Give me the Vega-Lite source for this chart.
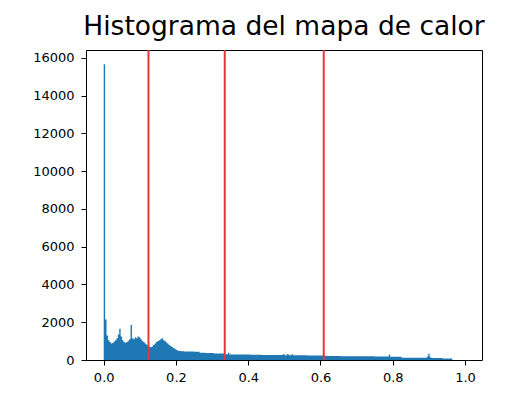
{
  "$schema": "https://vega.github.io/schema/vega-lite/v6.json",
  "width": 396,
  "height": 310,
  "autosize": {"type": "none"},
  "padding": {"left": 86, "top": 50, "right": 28, "bottom": 36},
  "background": "white",
  "title": {
    "text": "Histograma del mapa de calor",
    "font": "DejaVu Sans",
    "fontSize": 26.5,
    "fontWeight": "normal",
    "color": "#000000",
    "anchor": "middle",
    "baseline": "alphabetic",
    "offset": -12
  },
  "config": {
    "view": {"stroke": "#000000", "strokeWidth": 1},
    "axis": {
      "domain": false,
      "grid": false,
      "labelFont": "DejaVu Sans",
      "labelFontSize": 13,
      "labelColor": "#000000",
      "tickColor": "#000000",
      "tickSize": 5,
      "tickWidth": 1,
      "title": null
    }
  },
  "datasets": {
    "hist": [
      {"lo": 0, "n": 15650},
      {"lo": 0.00390625, "n": 2150},
      {"lo": 0.0078125, "n": 1300},
      {"lo": 0.01171875, "n": 1050},
      {"lo": 0.015625, "n": 950},
      {"lo": 0.01953125, "n": 880},
      {"lo": 0.0234375, "n": 900},
      {"lo": 0.02734375, "n": 980},
      {"lo": 0.03125, "n": 1050},
      {"lo": 0.03515625, "n": 1150},
      {"lo": 0.0390625, "n": 1350},
      {"lo": 0.04296875, "n": 1650},
      {"lo": 0.046875, "n": 1250},
      {"lo": 0.05078125, "n": 1050},
      {"lo": 0.0546875, "n": 950},
      {"lo": 0.05859375, "n": 900},
      {"lo": 0.0625, "n": 950},
      {"lo": 0.06640625, "n": 1000},
      {"lo": 0.0703125, "n": 1100},
      {"lo": 0.07421875, "n": 1850},
      {"lo": 0.078125, "n": 1150},
      {"lo": 0.08203125, "n": 1100},
      {"lo": 0.0859375, "n": 1200},
      {"lo": 0.08984375, "n": 1150},
      {"lo": 0.09375, "n": 1250},
      {"lo": 0.09765625, "n": 1200},
      {"lo": 0.1015625, "n": 1100},
      {"lo": 0.10546875, "n": 1000},
      {"lo": 0.109375, "n": 950},
      {"lo": 0.11328125, "n": 880},
      {"lo": 0.1171875, "n": 820},
      {"lo": 0.12109375, "n": 760},
      {"lo": 0.125, "n": 700},
      {"lo": 0.12890625, "n": 680},
      {"lo": 0.1328125, "n": 720},
      {"lo": 0.13671875, "n": 800},
      {"lo": 0.140625, "n": 880},
      {"lo": 0.14453125, "n": 950},
      {"lo": 0.1484375, "n": 1000},
      {"lo": 0.15234375, "n": 1050},
      {"lo": 0.15625, "n": 1100},
      {"lo": 0.16015625, "n": 1150},
      {"lo": 0.1640625, "n": 1050},
      {"lo": 0.16796875, "n": 1000},
      {"lo": 0.171875, "n": 930},
      {"lo": 0.17578125, "n": 880},
      {"lo": 0.1796875, "n": 800},
      {"lo": 0.18359375, "n": 740},
      {"lo": 0.1875, "n": 690},
      {"lo": 0.19140625, "n": 640},
      {"lo": 0.1953125, "n": 590},
      {"lo": 0.19921875, "n": 540},
      {"lo": 0.203125, "n": 500},
      {"lo": 0.20703125, "n": 480},
      {"lo": 0.21484375, "n": 465},
      {"lo": 0.22265625, "n": 455},
      {"lo": 0.234375, "n": 450},
      {"lo": 0.25, "n": 440},
      {"lo": 0.265625, "n": 380},
      {"lo": 0.28125, "n": 365},
      {"lo": 0.3046875, "n": 350},
      {"lo": 0.3359375, "n": 300},
      {"lo": 0.34375, "n": 380},
      {"lo": 0.34765625, "n": 295},
      {"lo": 0.375, "n": 285},
      {"lo": 0.40625, "n": 275},
      {"lo": 0.4375, "n": 270},
      {"lo": 0.4609375, "n": 262},
      {"lo": 0.484375, "n": 260},
      {"lo": 0.49609375, "n": 320},
      {"lo": 0.5, "n": 255},
      {"lo": 0.5078125, "n": 320},
      {"lo": 0.51171875, "n": 250},
      {"lo": 0.51953125, "n": 300},
      {"lo": 0.5234375, "n": 245},
      {"lo": 0.5625, "n": 235},
      {"lo": 0.61328125, "n": 215},
      {"lo": 0.65625, "n": 205},
      {"lo": 0.703125, "n": 195},
      {"lo": 0.75, "n": 185},
      {"lo": 0.7890625, "n": 290},
      {"lo": 0.79296875, "n": 175},
      {"lo": 0.82421875, "n": 125},
      {"lo": 0.89453125, "n": 180},
      {"lo": 0.8984375, "n": 330},
      {"lo": 0.90234375, "n": 150},
      {"lo": 0.90625, "n": 100},
      {"lo": 0.9375, "n": 85},
      {"lo": 0.96484375, "n": 6},
      {"lo": 0.99609375, "n": 0}
    ],
    "umbrales": [
      {"umbral": 0.124},
      {"umbral": 0.335},
      {"umbral": 0.609}
    ]
  },
  "layer": [
    {
      "data": {"name": "hist"},
      "mark": {"type": "area", "interpolate": "step-after", "color": "#1f77b4", "opacity": 1},
      "encoding": {
        "x": {
          "field": "lo",
          "type": "quantitative",
          "scale": {"domain": [-0.049, 1.047], "nice": false, "zero": false},
          "axis": {"values": [0, 0.2, 0.4, 0.6, 0.8, 1.0], "format": ".1f", "labelPadding": 6}
        },
        "y": {
          "field": "n",
          "type": "quantitative",
          "scale": {"domain": [0, 16410], "nice": false},
          "axis": {"values": [0, 2000, 4000, 6000, 8000, 10000, 12000, 14000, 16000], "format": "d", "labelPadding": 7}
        }
      }
    },
    {
      "data": {"name": "umbrales"},
      "mark": {"type": "rule", "color": "#e8353a", "strokeWidth": 2},
      "encoding": {
        "x": {"field": "umbral", "type": "quantitative"}
      }
    }
  ]
}
